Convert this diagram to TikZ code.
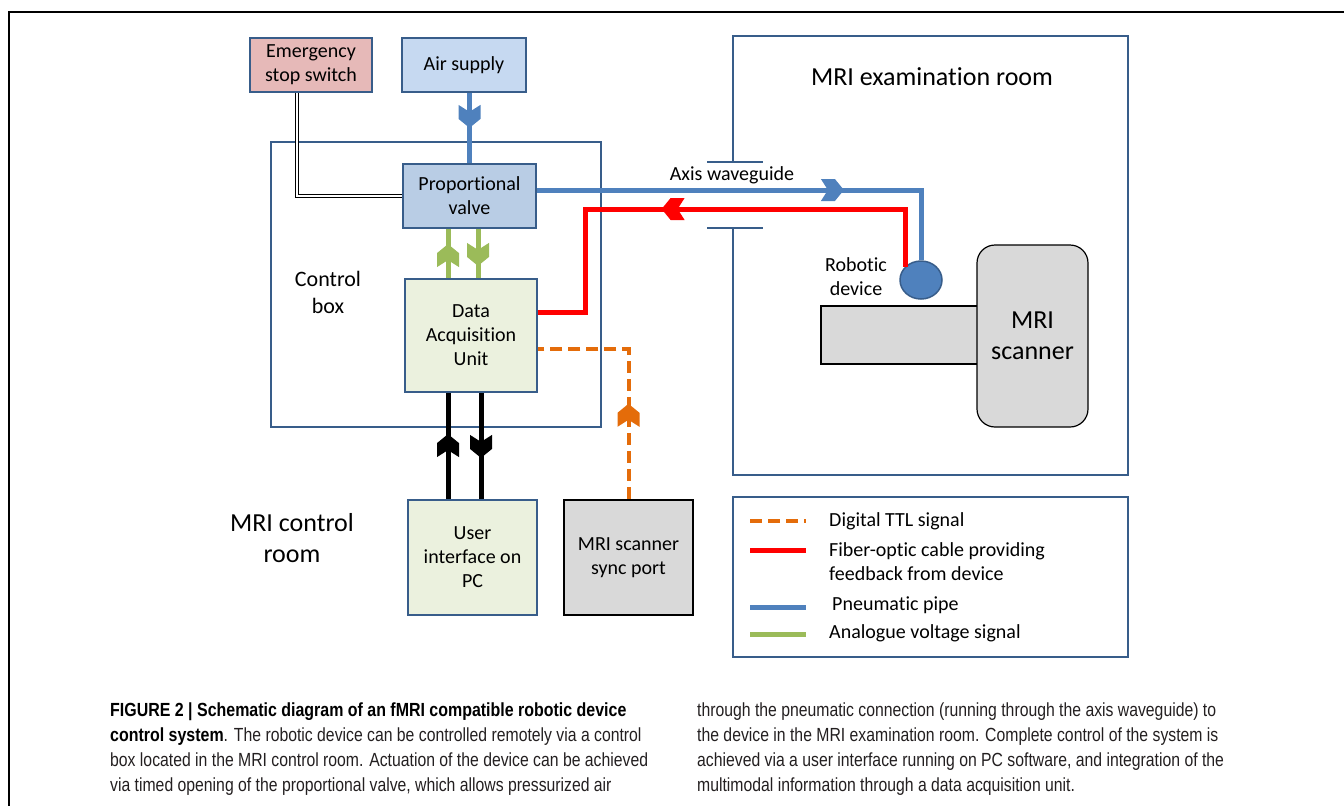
\documentclass[tikz,border=0pt]{standalone}
\usepackage{fontspec}
\setmainfont{Carlito}[Ligatures=NoCommon]
\newfontfamily\capfont[FakeStretch=0.83,BoldFeatures={FakeStretch=0.84}]{Liberation Sans}
\usetikzlibrary{decorations.markings,shapes.geometric}
\definecolor{boxblue}{HTML}{385D8A}
\definecolor{pipeblue}{HTML}{4F81BD}
\definecolor{stoppink}{HTML}{E6B9B8}
\definecolor{airfill}{HTML}{C6D9F1}
\definecolor{valvefill}{HTML}{B9CDE5}
\definecolor{unitfill}{HTML}{EBF1DE}
\definecolor{scangray}{HTML}{D9D9D9}
\definecolor{ttlorange}{HTML}{E46C0A}
\definecolor{voltgreen}{HTML}{9BBB59}
\definecolor{captext}{HTML}{231F20}
\newcommand{\smalltxt}{\fontsize{20}{24}\selectfont}
\newcommand{\bigtxt}{\fontsize{26}{31}\selectfont}
\newcommand{\captxt}{\capfont\fontsize{19}{25}\selectfont}
\tikzset{
	box/.style={draw=boxblue, line width=1.8pt, align=center, inner sep=0pt, font=\smalltxt},
	midtip/.style={postaction={decorate},
			decoration={markings, mark=at position #1 with
					{\fill (0,0) -- (-9,11) -- (-23,11) -- (-16,0) -- (-23,-11) -- (-9,-11) -- cycle;}}},
	pipe/.style={pipeblue, line width=5pt},
	fiber/.style={red, line width=5pt},
	volt/.style={voltgreen, line width=5pt},
	ttl/.style={ttlorange, line width=4pt, dash pattern=on 12pt off 6pt},
	wire/.style={black, line width=5pt},
	label/.style={align=center, inner sep=0pt, font=\smalltxt},
	keytext/.style={anchor=west, align=left, inner sep=0pt, font=\smalltxt}
}

\begin{document}
\begin{tikzpicture}[x=1pt,y=-1pt]
	\useasboundingbox (0,0) rectangle (1344,806);
	\draw [line width=1.2pt] (1344,12) -- (9,12) -- (9,806);

	\node [draw=boxblue, line width=1.8pt, minimum width=330pt, minimum height=285pt] (cbox) at (436,284.5) {};
	\node [label, font=\fontsize{22}{27}\selectfont] (cboxlbl) at (328,292) {Control\\box};
	\node [label, font=\bigtxt] (ctrlroom) at (292,538) {MRI control\\room};

	\node [box, fill=stoppink, minimum width=122pt, minimum height=54pt] (stop) at (311,65) {Emergency\\stop switch};
	\node [box, fill=airfill, minimum width=124pt, minimum height=54pt] (air) at (464,65) {Air supply};
	\node [box, fill=valvefill, minimum width=133pt, minimum height=64pt] (pv) at (469.5,196) {Proportional\\valve};
	\node [box, fill=unitfill, minimum width=132pt, minimum height=113pt] (dq) at (471,335.5) {Data\\Acquisition\\Unit};
	\node [box, fill=unitfill, minimum width=129pt, minimum height=115pt] (ui) at (472.5,557.5) {User\\interface on\\PC};
	\node [box, draw=black, line width=2.4pt, fill=scangray, minimum width=129pt, minimum height=115pt] (sync) at (628.5,557.5) {MRI scanner\\sync port};

	% examination room, wall open at the waveguide
	\coordinate (wgtop) at (733,162);
	\coordinate (wgbot) at (733,228);
	\draw [boxblue, line width=1.8pt] (wgtop) -- (733,36) -- (1128,36) -- (1128,475) -- (733,475) -- (wgbot);
	\draw [boxblue, line width=1.8pt] ([xshift=-26pt]wgtop) -- ([xshift=30pt]wgtop);
	\draw [boxblue, line width=1.8pt] ([xshift=-26pt]wgbot) -- ([xshift=30pt]wgbot);
	\node [label, font=\bigtxt] (examroom) at (932,77) {MRI examination room};
	\node [label] (wglbl) at (732,175) {Axis waveguide};

	\node [draw=black, line width=1.2pt, fill=scangray, minimum width=157pt, minimum height=58pt] (bed) at (899.5,335) {};
	\node [draw=black, line width=1.2pt, fill=scangray, rounded corners=18pt, minimum width=111pt, minimum height=182pt,
		align=center, font=\bigtxt] (mri) at (1032.5,336) {MRI\\scanner};
	\node [ellipse, draw=boxblue, line width=1.5pt, fill=pipeblue, minimum width=42pt, minimum height=38pt, inner sep=0pt] (dev) at (921,280) {};
	\node [label] (devlbl) at (856,277) {Robotic\\device};

	\coordinate (fbend) at (585,209);
	\draw [pipe, midtip=35pt] (air.south -| pv.north) -- (pv.north);
	\draw [pipe, midtip=307pt] ([yshift=6pt]pv.east) -| (dev.north);
	\draw [fiber, midtip=301pt] (dev.140) |- (fbend) |- ([yshift=23.5pt]dq.east);
	\draw [volt, midtip=34pt] ([xshift=-23pt]dq.north) -- ([xshift=-23pt]dq.north |- pv.south);
	\draw [volt, midtip=37pt] ([xshift=7pt]dq.north |- pv.south) -- ([xshift=7pt]dq.north);
	\draw [wire, midtip=65pt] ([xshift=-24.5pt]ui.north) -- ([xshift=-24.5pt]ui.north |- dq.south);
	\draw [wire, midtip=65pt] ([xshift=8.5pt]ui.north |- dq.south) -- ([xshift=8.5pt]ui.north);
	\draw [ttl, midtip=95pt] (sync.north) |- ([yshift=-13.5pt]dq.east);
	\draw [double=white, double distance=2pt, line width=1pt] ([xshift=-14pt]stop.south) |- (pv.west);

	\node [draw=boxblue, line width=1.5pt, minimum width=395pt, minimum height=160pt] (legend) at (930.5,577) {};
	\draw [ttl] (750,521) -- (806,521);
	\draw [fiber] (750,550) -- (806,550);
	\draw [pipe] (750,607) -- (806,607);
	\draw [volt] (750,634) -- (806,634);
	\node [keytext] (keyttl) at (829,521) {Digital TTL signal};
	\node [keytext] (keyfiber) at (829,562) {Fiber-optic cable providing\\feedback from device};
	\node [keytext] (keypipe) at (832,605) {Pneumatic pipe};
	\node [keytext] (keyvolt) at (829,633) {Analogue voltage signal};

	\node [anchor=north west, align=left, inner sep=0pt, font=\captxt, text=captext] (capleft) at (110,703)
		{{\color{black}\bfseries FIGURE 2 | Schematic diagram of an fMRI compatible robotic device}\\
		{\color{black}\bfseries control system}. The robotic device can be controlled remotely via a control\\
		box located in the MRI control room. Actuation of the device can be achieved\\
		via timed opening of the proportional valve, which allows pressurized air};
	\node [anchor=north west, align=left, inner sep=0pt, font=\captxt, text=captext] (capright) at (697,703)
		{through the pneumatic connection (running through the axis waveguide) to\\
		the device in the MRI examination room. Complete control of the system is\\
		achieved via a user interface running on PC software, and integration of the\\
		multimodal information through a data acquisition unit.};
\end{tikzpicture}
\end{document}
